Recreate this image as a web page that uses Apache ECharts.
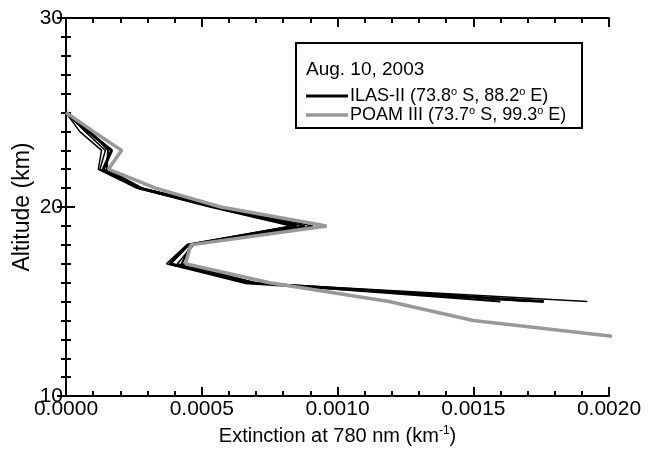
<!DOCTYPE html>
<html>
<head>
<meta charset="utf-8">
<script src="https://cdn.jsdelivr.net/npm/echarts@6/dist/echarts.min.js"></script>
<style>html,body{margin:0;padding:0;background:#fff}#c{width:650px;height:451px}</style>
</head>
<body>
<div id="c"></div>
<script>
// Altitudes (km) for ILAS-II profiles
var ilasAlt = [25, 24, 23, 22, 21, 20, 19, 18, 17, 16, 15];
// ILAS-II extinction profiles (km^-1)
var ilas1 = [0, 0.00005, 0.000131, 0.000119, 0.00026, 0.00053, 0.00083, 0.000445, 0.00037, 0.00068, 0.00192];
var ilas2 = [0, 0.00008, 0.000168, 0.000137, 0.00027, 0.00055, 0.00085, 0.00045, 0.000383, 0.00066, 0.00176];
var ilas3 = [0, 0.00009, 0.000155, 0.00015, 0.00028, 0.00056, 0.00088, 0.00046, 0.000426, 0.00069, 0.00160];
var ilas4 = [0, 0.00007, 0.000145, 0.000125, 0.00028, 0.00057, 0.00091, 0.00047, 0.00041, 0.00070, 0.00170];
// POAM III profile
var poamAlt = [25, 24, 23, 22, 21, 20, 19, 18, 17, 16, 15, 14, 13];
var poam = [0, 0.0001, 0.000205, 0.000156, 0.00033, 0.00057, 0.00096, 0.00046, 0.00044, 0.00075, 0.00119, 0.00150, 0.00211];
// Tick labels / titles
var xTitle = 'Extinction at 780 nm (km{sup|-1})';
var yTitle = 'Altitude (km)';
var legendTitle = 'Aug. 10, 2003';
var legendIlas = 'ILAS-II (73.8{sup|o} S, 88.2{sup|o} E)';
var legendPoam = 'POAM III (73.7{sup|o} S, 99.3{sup|o} E)';

function pairs(xs, ys) { return xs.map(function (v, i) { return [v, ys[i]]; }); }

var FONT = '"Liberation Sans", Arial, Helvetica, sans-serif';
var chart = echarts.init(document.getElementById('c'), null, {renderer: 'canvas'});

var axisLine = {show: true, lineStyle: {color: '#000', width: 2}};
var axisTick = {show: true, inside: true, length: 9, lineStyle: {color: '#000', width: 2}};

function blackSeries(d, w) {
  return {type: 'line', data: pairs(d, ilasAlt), symbol: 'none', lineStyle: {color: '#000', width: w}, animation: false, clip: true};
}

chart.setOption({
  animation: false,
  grid: {left: 66, top: 18, right: 41, bottom: 48},
  xAxis: [
    {
      type: 'value', min: 0, max: 0.002, interval: 0.0005, position: 'bottom',
      axisLine: axisLine, axisTick: axisTick, splitLine: {show: false},
      minorTick: {show: true, splitNumber: 5, length: 5, lineStyle: {color: '#000', width: 2}},
      axisLabel: {formatter: function (v) { return v.toFixed(4); }, color: '#000', fontSize: 21, fontFamily: FONT, margin: 3},
      name: xTitle, nameLocation: 'middle', nameGap: 26,
      nameTextStyle: {color: '#000', fontSize: 20, fontFamily: FONT, rich: {sup: {fontSize: 12, verticalAlign: 'top', padding: [0, 0, 10, 0], color: '#000', fontFamily: FONT}}}
    },
    {
      type: 'value', min: 0, max: 0.002, interval: 0.0005, position: 'top',
      axisLine: axisLine, axisTick: axisTick, splitLine: {show: false},
      minorTick: {show: true, splitNumber: 5, length: 5, lineStyle: {color: '#000', width: 2}},
      axisLabel: {show: false}
    }
  ],
  yAxis: [
    {
      type: 'value', min: 10, max: 30, interval: 10, position: 'left',
      axisLine: axisLine, axisTick: axisTick, splitLine: {show: false},
      minorTick: {show: true, splitNumber: 10, length: 5, lineStyle: {color: '#000', width: 2}},
      axisLabel: {color: '#000', fontSize: 21, fontFamily: FONT, margin: 3},
      name: yTitle, nameLocation: 'middle', nameGap: 32, nameRotate: 90, nameMoveOverlap: false,
      nameTextStyle: {color: '#000', fontSize: 23, fontFamily: FONT}
    },
    {
      type: 'value', min: 10, max: 30, interval: 10, position: 'right',
      axisLine: axisLine, axisTick: axisTick, splitLine: {show: false},
      minorTick: {show: true, splitNumber: 10, length: 5, lineStyle: {color: '#000', width: 2}},
      axisLabel: {show: false}
    }
  ],
  series: [
    blackSeries(ilas1, 1.5),
    blackSeries(ilas2, 3),
    blackSeries(ilas3, 2),
    blackSeries(ilas4, 1.5),
    {type: 'line', data: pairs(poam, poamAlt), symbol: 'none', lineStyle: {color: '#999', width: 3.5}, animation: false, clip: true}
  ],
  graphic: [
    {type: 'rect', shape: {x: 296, y: 43, width: 286, height: 85}, style: {fill: '#fff', stroke: '#000', lineWidth: 2}, z: 100},
    {type: 'text', x: 306, y: 70, style: {text: legendTitle, fill: '#000', font: '19px ' + FONT, verticalAlign: 'middle'}, z: 101},
    {type: 'line', shape: {x1: 306, y1: 96, x2: 348, y2: 96}, style: {stroke: '#000', lineWidth: 3}, z: 101},
    {type: 'text', x: 350, y: 96, style: {text: legendIlas, fill: '#000', font: '18px ' + FONT, verticalAlign: 'middle',
      rich: {sup: {fontSize: 11, verticalAlign: 'top', padding: [0, 0, 9, 0], fill: '#000', fontFamily: FONT}}}, z: 101},
    {type: 'line', shape: {x1: 306, y1: 115, x2: 348, y2: 115}, style: {stroke: '#999', lineWidth: 3.5}, z: 101},
    {type: 'text', x: 350, y: 115, style: {text: legendPoam, fill: '#000', font: '18px ' + FONT, verticalAlign: 'middle',
      rich: {sup: {fontSize: 11, verticalAlign: 'top', padding: [0, 0, 9, 0], fill: '#000', fontFamily: FONT}}}, z: 101}
  ]
});
</script>
</body>
</html>
